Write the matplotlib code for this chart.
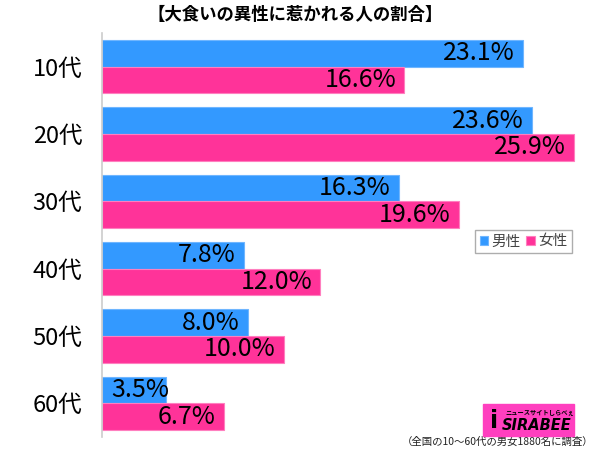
import matplotlib
matplotlib.use("Agg")
import matplotlib.pyplot as plt
from matplotlib.patches import Rectangle
import numpy as np

plt.rcParams["font.family"] = ["Noto Sans CJK JP", "DejaVu Sans"]

categories = ["10代", "20代", "30代", "40代", "50代", "60代"]
male = [23.1, 23.6, 16.3, 7.8, 8.0, 3.5]
female = [16.6, 25.9, 19.6, 12.0, 10.0, 6.7]
series_names = ["男性", "女性"]
title = "【大食いの異性に惹かれる人の割合】"
footnote = "（全国の10～60代の男女1880名に調査）"

blue = "#3399ff"
pink = "#ff3399"

fig = plt.figure(figsize=(6.0, 4.49), dpi=100)
ax = fig.add_axes([0.17, 0.0267, 0.8133, 0.9],)

y = np.arange(len(categories))
h = 0.395
bars_m = ax.barh(y - h / 2, male, height=h, color=blue, edgecolor="#6fb6ff",
                 linewidth=0.8, label=series_names[0])
bars_f = ax.barh(y + h / 2, female, height=h, color=pink, edgecolor="#ff7fbf",
                 linewidth=0.8, label=series_names[1])

ax.set_xlim(0, 26.8)
ax.set_ylim(len(categories) - 0.5, -0.5)

for vals, offs in ((male, -h / 2), (female, h / 2)):
    for i, v in enumerate(vals):
        if v < 5:
            ax.text(0.5, i + offs, f"{v:.1f}%", ha="left", va="center",
                    fontsize=18, color="black")
        else:
            ax.text(v - 0.45, i + offs, f"{v:.1f}%", ha="right", va="center",
                    fontsize=18, color="black")

ax.set_yticks(y)
ax.set_yticklabels(categories, fontsize=17)
ax.tick_params(axis="y", length=0, pad=14)
ax.set_xticks([])
for s in ("top", "right", "bottom"):
    ax.spines[s].set_visible(False)
ax.spines["left"].set_color("#cccccc")
ax.spines["left"].set_linewidth(1.2)

leg = ax.legend(loc="upper left", bbox_to_anchor=(0.765, 0.512), fontsize=10.5,
                frameon=True, fancybox=False, edgecolor="#999999",
                handlelength=0.6, handleheight=0.6, handletextpad=0.2,
                columnspacing=0.4, ncol=2, borderpad=0.3, borderaxespad=0)
for t in leg.get_texts():
    t.set_color("#444444")

fig.text(0.492, 0.967, title, ha="center", va="center", fontsize=12.5,
         fontweight="bold")

# logo
fig.patches.append(Rectangle((483 / 600, 1 - 436 / 449), 91 / 600, 32 / 449,
                             transform=fig.transFigure, color="#ff3fbf",
                             zorder=5))
fig.text(502 / 600, 1 - 426 / 449, "SIRABEE", ha="left", va="center",
         fontsize=10.5, fontweight="bold", fontstyle="italic", color="black",
         family="DejaVu Sans", zorder=6)
fig.text(540 / 600, 1 - 412 / 449, "ニュースサイトしらべぇ", ha="center",
         va="center", fontsize=4.5, fontweight="bold", color="black", zorder=6)
fig.text(494 / 600, 1 - 421 / 449, "i", ha="center", va="center", fontsize=17,
         fontweight="bold", color="black", family="DejaVu Sans", zorder=6)

fig.text(0.83, 1 - 442 / 449, footnote, ha="center", va="center", fontsize=7.5,
         color="#222222")

fig.savefig("out.png", dpi=100)
